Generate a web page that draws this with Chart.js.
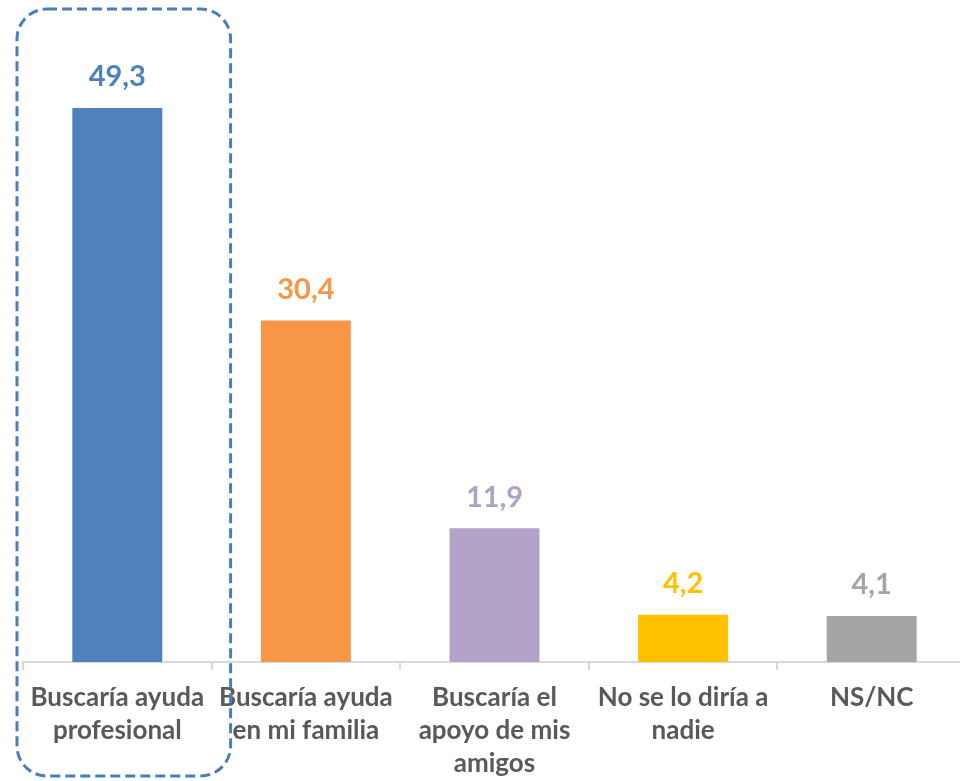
<!DOCTYPE html>
<html>
<head>
<meta charset="utf-8">
<script src="https://cdn.jsdelivr.net/npm/chart.js@4"></script>
<style>
  html, body { margin: 0; padding: 0; background: #fff; overflow: hidden; }
  canvas { display: block; }
</style>
</head>
<body>
<canvas id="chart" width="966" height="781"></canvas>
<script>
const categories = [
  ['Buscaría ayuda', 'profesional'],
  ['Buscaría ayuda', 'en mi familia'],
  ['Buscaría el', 'apoyo de mis', 'amigos'],
  ['No se lo diría a', 'nadie'],
  'NS/NC'
];
const values = [49.3, 30.4, 11.9, 4.2, 4.1];
const barColors = ['#4F81BD', '#F79646', '#B3A2C7', '#FFC000', '#A5A5A5'];
const labelColors = ['#4F81BD', '#F79646', '#B3A2C7', '#FFC000', '#A5A5A5'];

// value labels above each bar, decimal comma
const valueLabels = {
  id: 'valueLabels',
  afterDatasetsDraw(chart) {
    const ctx = chart.ctx;
    const meta = chart.getDatasetMeta(0);
    ctx.save();
    ctx.font = 'bold 29px Lato';
    ctx.textAlign = 'center';
    ctx.textBaseline = 'middle';
    meta.data.forEach((bar, i) => {
      ctx.fillStyle = labelColors[i];
      ctx.fillText(values[i].toFixed(1).replace('.', ','), bar.x, bar.y - 31);
    });
    ctx.restore();
  }
};

// dashed rounded frame around the first category
const highlightBox = {
  id: 'highlightBox',
  afterDraw(chart) {
    const x = chart.scales.x;
    const step = (x.right - x.left) / categories.length;
    const left = x.left - 6;
    const right = x.left + step + 19;
    const top = 9, bottom = 776, r = 30;
    const ctx = chart.ctx;
    ctx.save();
    ctx.strokeStyle = '#4A7EBB';
    ctx.lineWidth = 3;
    ctx.setLineDash([10, 5]);
    ctx.beginPath();
    ctx.roundRect(left, top, right - left, bottom - top, r);
    ctx.stroke();
    ctx.restore();
  }
};

new Chart(document.getElementById('chart'), {
  type: 'bar',
  data: {
    labels: categories,
    datasets: [{
      data: values,
      backgroundColor: barColors,
      borderWidth: 0,
      barPercentage: 0.477,
      categoryPercentage: 1
    }]
  },
  options: {
    responsive: false,
    animation: false,
    layout: { padding: { top: 44, left: 23, right: 0, bottom: -10 } },
    plugins: {
      legend: { display: false },
      tooltip: { enabled: false }
    },
    scales: {
      x: {
        offset: true,
        grid: {
          offset: true,
          drawOnChartArea: false,
          drawTicks: true,
          tickLength: 8,
          color: '#D9D9D9',
          lineWidth: 2
        },
        border: { color: '#D9D9D9', width: 2 },
        ticks: {
          color: '#595959',
          font: { family: 'Lato', size: 26, weight: 'bold', lineHeight: 1.27 },
          padding: 11,
          maxRotation: 0,
          autoSkip: false
        }
      },
      y: {
        display: false,
        min: 0,
        max: 55
      }
    }
  },
  plugins: [valueLabels, highlightBox]
});
</script>
</body>
</html>
